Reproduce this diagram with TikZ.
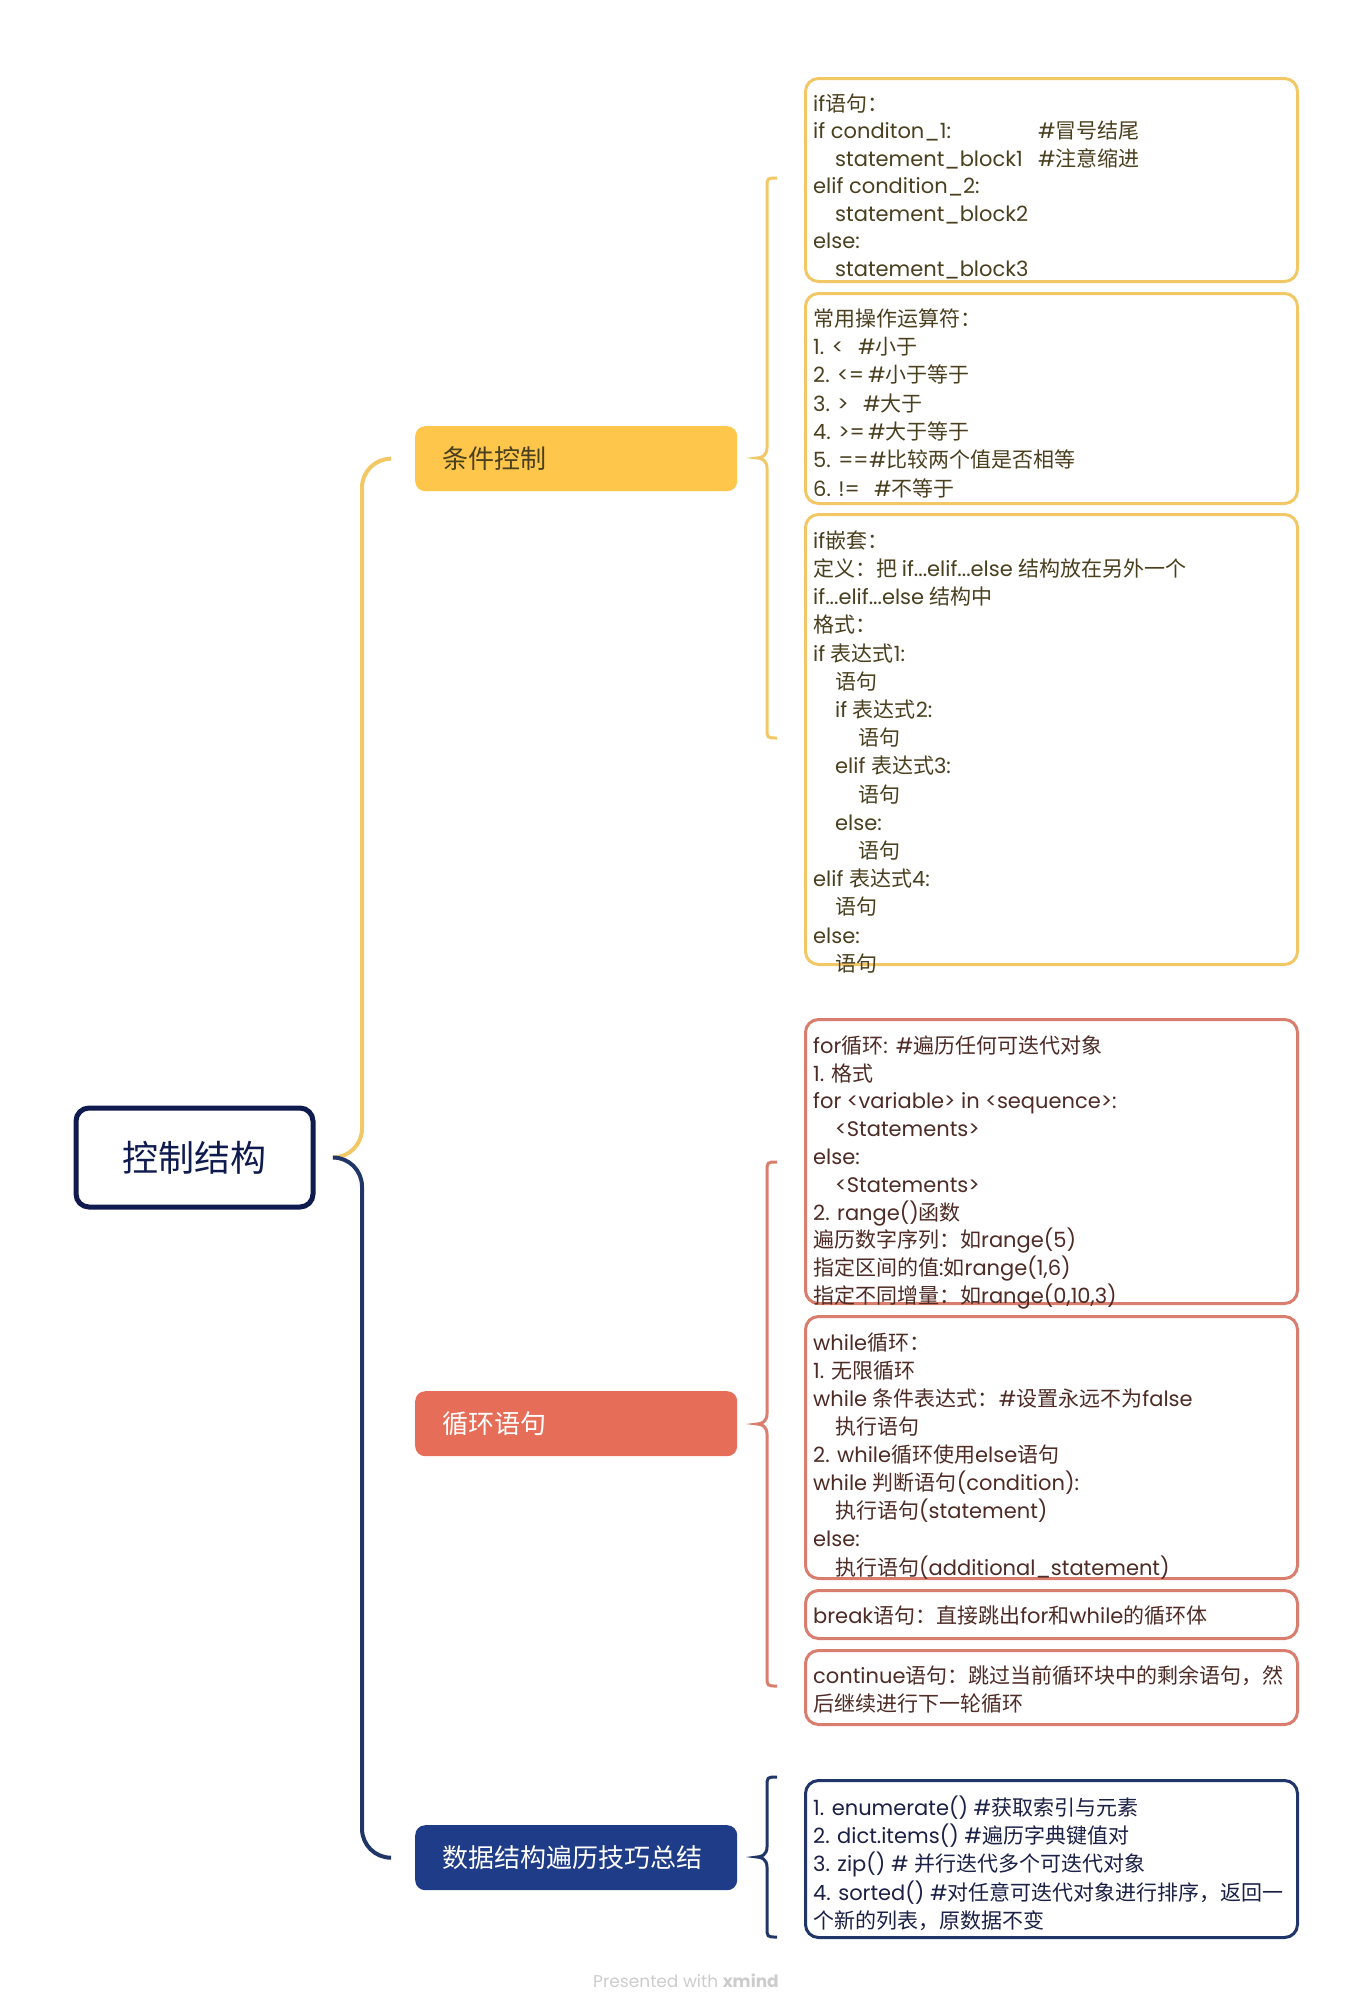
\documentclass[tikz,border=0pt]{standalone}
\usepackage{fontspec}
\usetikzlibrary{calc}
\setmainfont{Poppins}
\newfontfamily\cjkf{Noto Sans CJK SC}
\newfontfamily\latf{Poppins}
\newXeTeXintercharclass\mycjk
\makeatletter
\count@="3000 \loop \XeTeXcharclass\count@=\mycjk \advance\count@ 1 \ifnum\count@<"3040 \repeat
\count@="4E00 \loop \XeTeXcharclass\count@=\mycjk \advance\count@ 1 \ifnum\count@<"A000 \repeat
\count@="FF00 \loop \XeTeXcharclass\count@=\mycjk \advance\count@ 1 \ifnum\count@<"FFF0 \repeat
\makeatother
\XeTeXinterchartokenstate=1
\XeTeXinterchartoks 0 \mycjk = {\cjkf}
\XeTeXinterchartoks 4095 \mycjk = {\cjkf}
\XeTeXinterchartoks \mycjk 0 = {\latf}
\XeTeXinterchartoks 4095 0 = {\latf}
\newcommand\fl{\rule{0pt}{20pt}}
\newcommand\ind{\hspace*{22pt}}
\newcommand\indd{\hspace*{45pt}}
\definecolor{yel}{HTML}{FEC64A}
\definecolor{yelline}{HTML}{F2C866}
\definecolor{yeltext}{HTML}{4A3F1E}
\definecolor{cor}{HTML}{E66E58}
\definecolor{corline}{HTML}{D97E6E}
\definecolor{cortext}{HTML}{4E2B25}
\definecolor{nav}{HTML}{1F3C88}
\definecolor{navline}{HTML}{203668}
\definecolor{navtext}{HTML}{1A2046}
\definecolor{rootc}{HTML}{0F1A4E}
\begin{document}
\begin{tikzpicture}[x=1pt,y=-1pt,
  root/.style={draw=rootc, line width=5pt, rounded corners=13pt, fill=white,
    minimum width=237pt, minimum height=99pt, inner sep=0pt,
    font=\fontsize{36}{40}\selectfont, text=rootc},
  sub/.style={rounded corners=10pt, minimum width=322pt, minimum height=65pt,
    inner xsep=27pt, inner ysep=0pt, text width=268pt, align=left, anchor=north west,
    font=\fontsize{26}{30}\selectfont},
  cbox/.style={draw, line width=3pt, rounded corners=13pt, fill=white,
    minimum width=492pt, anchor=north west, inner sep=0pt},
  txt/.style={anchor=north west, inner sep=0pt, align=left},
  conn/.style={line width=4pt, rounded corners=29pt},
  brace/.style={line width=3pt}
]
\useasboundingbox (0,0) rectangle (1372,2013);

% root and main topics
\node[root] (root) at (194.5,1157.5) {控制结构};
\node[sub, fill=yel, text=yeltext] (cond) at (415,426) {条件控制};
\node[sub, fill=cor, text=white] (loop) at (415,1391) {循环语句};
\node[sub, fill=nav, text=white] (data) at (415,1825) {数据结构遍历技巧总结};

% connectors from root
\coordinate (rj) at ($(root.east)+(20,0)$);
\coordinate (e1) at ($(cond.west)+(-25,0)$);
\coordinate (e3) at ($(data.west)+(-25,0)$);
\draw[conn, yelline] (rj) -| ($(e1)+(-28,0)$) -- (e1);
\draw[conn, navline] (rj) -| ($(e3)+(-28,0)$) -- (e3);

% child boxes
\node[cbox, draw=yelline, minimum height=203pt] (bA) at (804,77) {};
\node[cbox, draw=yelline, minimum height=210pt] (bB) at (804,292) {};
\node[cbox, draw=yelline, minimum height=450pt] (bC) at (804,513) {};
\node[cbox, draw=corline, minimum height=284pt] (bD) at (804,1018) {};
\node[cbox, draw=corline, minimum height=262pt] (bE) at (804,1315) {};
\node[cbox, draw=corline, minimum height=48pt] (bF) at (804,1589) {};
\node[cbox, draw=corline, minimum height=74pt] (bG) at (804,1649) {};
\node[cbox, draw=navline, minimum height=157pt] (bH) at (804,1779) {};

% braces
\newcommand\bracepath[4]{% x cusp, y center, half height, colour
  \draw[brace, #4] (#1+20,#2-#3) .. controls (#1+10,#2-#3) .. (#1+10,#2-#3+10)
    -- (#1+10,#2-10) .. controls (#1+10,#2-2) and (#1+4,#2) .. (#1,#2)
    .. controls (#1+4,#2) and (#1+10,#2+2) .. (#1+10,#2+10)
    -- (#1+10,#2+#3-10) .. controls (#1+10,#2+#3) .. (#1+20,#2+#3);}
\bracepath{757}{458}{280}{yelline}
\bracepath{757}{1424}{262}{corline}
\bracepath{757}{1857}{80}{navline}

% texts yellow group
\node[txt, text=yeltext, font=\fontsize{21}{27.5}\selectfont] (tA) at (813,91) {\fl if语句：\\
\makebox[225pt][l]{if conditon\_1:}\#冒号结尾\\
\makebox[225pt][l]{\ind statement\_block1}\#注意缩进\\
elif condition\_2:\\
\ind statement\_block2\\
else:\\
\ind statement\_block3};

\node[txt, text=yeltext, font=\fontsize{21}{28.3}\selectfont] (tB) at (813,306) {\fl 常用操作运算符：\\
\makebox[45pt][l]{1. <}\#小于\\
\makebox[55pt][l]{2. <=}\#小于等于\\
\makebox[50pt][l]{3. >}\#大于\\
\makebox[55pt][l]{4. >=}\#大于等于\\
\makebox[56pt][l]{5. ==}\#比较两个值是否相等\\
\makebox[61pt][l]{6. !=}\#不等于};

\node[txt, text=yeltext, font=\fontsize{21}{28.2}\selectfont] (tC) at (813,528) {\fl if嵌套：\\
定义：把 if...elif...else 结构放在另外一个\\
if...elif...else 结构中\\
格式：\\
if 表达式1:\\
\ind 语句\\
\ind if 表达式2:\\
\indd 语句\\
\ind elif 表达式3:\\
\indd 语句\\
\ind else:\\
\indd 语句\\
elif 表达式4:\\
\ind 语句\\
else:\\
\ind 语句};

% texts coral group
\node[txt, text=cortext, font=\fontsize{21}{27.8}\selectfont] (tD) at (813,1033) {\fl for循环:\hspace*{8pt}\#遍历任何可迭代对象\\
1. 格式\\
for <variable> in <sequence>:\\
\ind <Statements>\\
else:\\
\ind <Statements>\\
2. range()函数\\
遍历数字序列：如range(5)\\
指定区间的值:如range(1,6)\\
指定不同增量：如range(0,10,3)};

\node[txt, text=cortext, font=\fontsize{21}{28.1}\selectfont] (tE) at (813,1330) {\fl while循环：\\
1. 无限循环\\
while 条件表达式：\#设置永远不为false\\
\ind 执行语句\\
2. while循环使用else语句\\
while 判断语句(condition):\\
\ind 执行语句(statement)\\
else:\\
\ind 执行语句(additional\_statement)};

\node[txt, text=cortext, font=\fontsize{21}{28}\selectfont] (tF) at (813,1603) {\fl break语句：直接跳出for和while的循环体};

\node[txt, text=cortext, font=\fontsize{21}{28}\selectfont] (tG) at (813,1663) {\fl continue语句：跳过当前循环块中的剩余语句，然\\
后继续进行下一轮循环};

% texts navy group
\node[txt, text=navtext, font=\fontsize{21}{28.3}\selectfont] (tH) at (813,1795) {\fl 1. enumerate() \#获取索引与元素\\
2. dict.items() \#遍历字典键值对\\
3. zip() \# 并行迭代多个可迭代对象\\
4. sorted() \#对任意可迭代对象进行排序，返回一\\
个新的列表，原数据不变};

% watermark
\node[inner sep=0pt, text=black!20, font=\fontsize{17}{19}\selectfont] (wm) at (686,1981) {Presented with \textbf{xmind}};
\end{tikzpicture}
\end{document}
